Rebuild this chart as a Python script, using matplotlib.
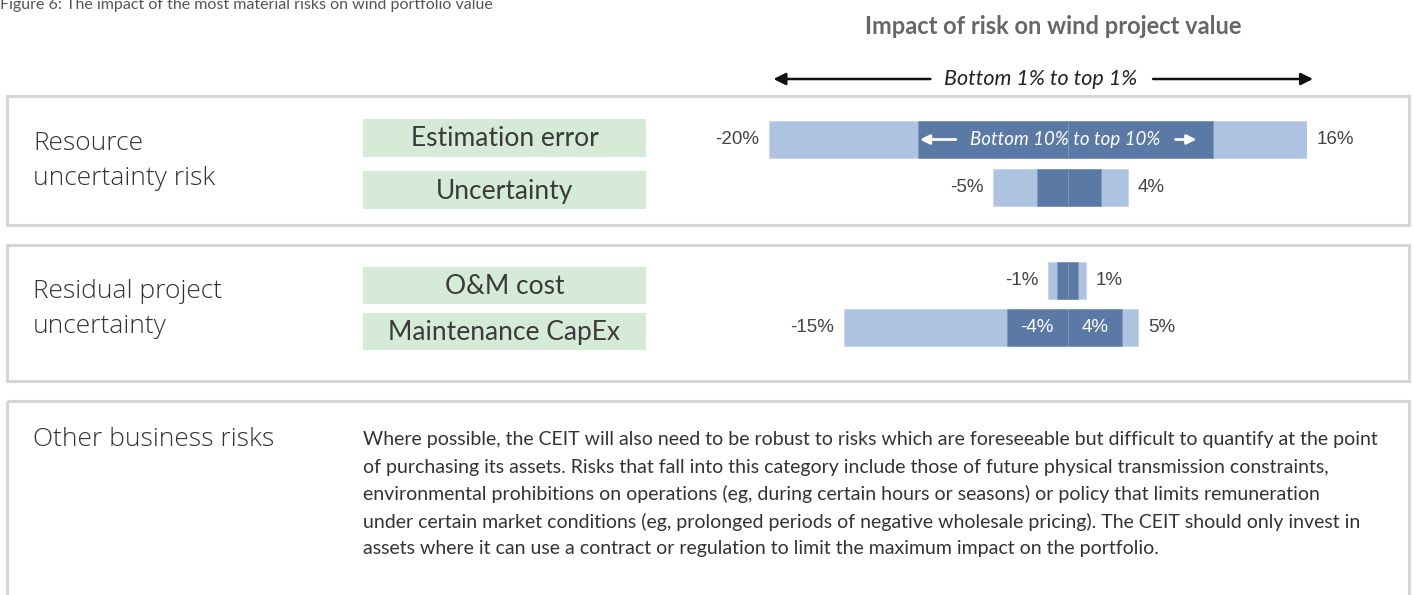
import matplotlib
matplotlib.use("Agg")
import matplotlib.pyplot as plt
from matplotlib.patches import Rectangle

# risk rows (top to bottom)
risks = ["Estimation error", "Uncertainty", "O&M cost", "Maintenance CapEx"]
# bottom 1% / top 1% impact on project value (%)
p01 = [-20, -5, -1.3, -15]
p99 = [16, 4, 1.2, 4.7]
# bottom 10% / top 10% impact (%)
p10 = [-10, -2.1, -0.7, -4.1]
p90 = [9.7, 2.2, 0.7, 3.6]

groups = ["Resource\nuncertainty risk", "Residual project\nuncertainty", "Other business risks"]

title = "Figure 6: The impact of the most material risks on wind portfolio value"
header = "Impact of risk on wind project value"
para = [
    "Where possible, the CEIT will also need to be robust to risks which are foreseeable but difficult to quantify at the point",
    "of purchasing its assets. Risks that fall into this category include those of future physical transmission constraints,",
    "environmental prohibitions on operations (eg, during certain hours or seasons) or policy that limits remuneration",
    "under certain market conditions (eg, prolonged periods of negative wholesale pricing). The CEIT should only invest in",
    "assets where it can use a contract or regulation to limit the maximum impact on the portfolio.",
]

W, H = 1414, 595
LIGHT = "#aec3e0"
DARK = "#5a7aa5"
GREEN = "#d5ebd7"
FRAME = "#d5d5d5"
TXT = "#333333"

fig = plt.figure(figsize=(W / 100, H / 100), dpi=100)

# background layer in pixel coords (origin top-left)
bg = fig.add_axes([0, 0, 1, 1])
bg.set_xlim(0, W)
bg.set_ylim(H, 0)
bg.axis("off")

# frames
for y0, y1 in [(96, 225), (245, 381), (401, 620)]:
    bg.add_patch(Rectangle((7, y0), 1402, y1 - y0, fill=False, ec=FRAME, lw=2.2))

bg.text(0, 9, title, fontsize=11.5, color="#555555", family=["Lato", "DejaVu Sans"], va="baseline")
bg.text(1053, 27, header, fontsize=17, fontweight="bold", color="#666666",
        family=["Liberation Sans Narrow", "Lato"], ha="center", va="center")

# group labels
lab_font = dict(fontsize=19, color=TXT, family=["Open Sans", "Lato"], fontweight="light")
bg.text(33, 161, groups[0], va="center", linespacing=1.52, **lab_font)
bg.text(33, 309, groups[1], va="center", linespacing=1.52, **lab_font)
bg.text(33, 440, groups[2], va="center", **lab_font)

# green boxes with risk names
box_y = [(119, 157), (171, 209), (267, 304), (313, 350)]
for name, (y0, y1) in zip(risks, box_y):
    bg.add_patch(Rectangle((363, y0), 283, y1 - y0, fc=GREEN, ec="none"))
    bg.text(504.5, (y0 + y1) / 2 + 1, name, ha="center", va="center", fontsize=19,
            color="#3a3a3a", family=["Lato", "DejaVu Sans"])

# paragraph
for i, line in enumerate(para):
    bg.text(363, 440 + 27.2 * i, line, va="center", fontsize=14, color=TXT,
            family=["Lato", "DejaVu Sans"])

# bar chart axes: -20% at x=769px, 16% at x=1307px
x0_px, x1_px = 769, 1307
ax = fig.add_axes([x0_px / W, 0, (x1_px - x0_px) / W, 1])
ax.set_xlim(-20, 16)
ax.set_ylim(H, 0)
ax.axis("off")

row_y = [139.5, 187, 280.5, 327.5]
bh = 37
ax.barh(row_y, [h - l for l, h in zip(p01, p99)], left=p01, height=bh, color=LIGHT,
        edgecolor="#c8d6ea", linewidth=0.6)
ax.barh(row_y, [-v for v in p10], left=p10, height=bh, color=DARK, edgecolor="#7f98bb", linewidth=0.6)
ax.barh(row_y, p90, left=0, height=bh, color=DARK, edgecolor="#7f98bb", linewidth=0.6)

pfont = dict(fontsize=13.5, color="#444444", family=["Liberation Sans", "DejaVu Sans"], va="center")
off = 0.65
for y, lo, hi in zip(row_y, p01, p99):
    ax.text(lo - off, y, f"{round(lo)}%", ha="right", **pfont)
    ax.text(hi + off, y, f"{round(hi)}%", ha="left", **pfont)

# inner labels on maintenance capex dark bar
wfont = dict(fontsize=13.5, color="white", family=["Liberation Sans", "DejaVu Sans"], va="center")
ax.text(p10[3] / 2, row_y[3], f"{round(p10[3])}%", ha="center", **wfont)
ax.text(p90[3] / 2, row_y[3], f"{round(p90[3])}%", ha="center", **wfont)

# bottom 10% to top 10% annotation
ax.text(-0.2, row_y[0], "Bottom 10% to top 10%", ha="center", fontsize=13.5, style="italic",
        color="white", family=["Lato", "DejaVu Sans"], va="center")
wa = dict(arrowstyle="-|>", color="white", lw=2, mutation_scale=14, shrinkA=0, shrinkB=0)
ax.annotate("", xy=(p10[0] + 0.1, row_y[0]), xytext=(p10[0] + 2.5, row_y[0]), arrowprops=wa)
ax.annotate("", xy=(p90[0] - 1.1, row_y[0]), xytext=(p90[0] - 2.5, row_y[0]), arrowprops=wa)

# bottom 1% to top 1% arrow above
ay = 79
ka = dict(arrowstyle="-|>", color="#111111", lw=1.8, mutation_scale=18, shrinkA=0, shrinkB=0)
ax.annotate("", xy=(-19.7, ay), xytext=(-9.2, ay), arrowprops=ka, annotation_clip=False)
ax.annotate("", xy=(16.4, ay), xytext=(5.7, ay), arrowprops=ka, annotation_clip=False)
ax.text(-1.8, ay, "Bottom 1% to top 1%", ha="center", va="center", fontsize=15.5, style="italic",
        color="#222222", family=["Lato", "DejaVu Sans"])

fig.savefig("out.png", dpi=100)
